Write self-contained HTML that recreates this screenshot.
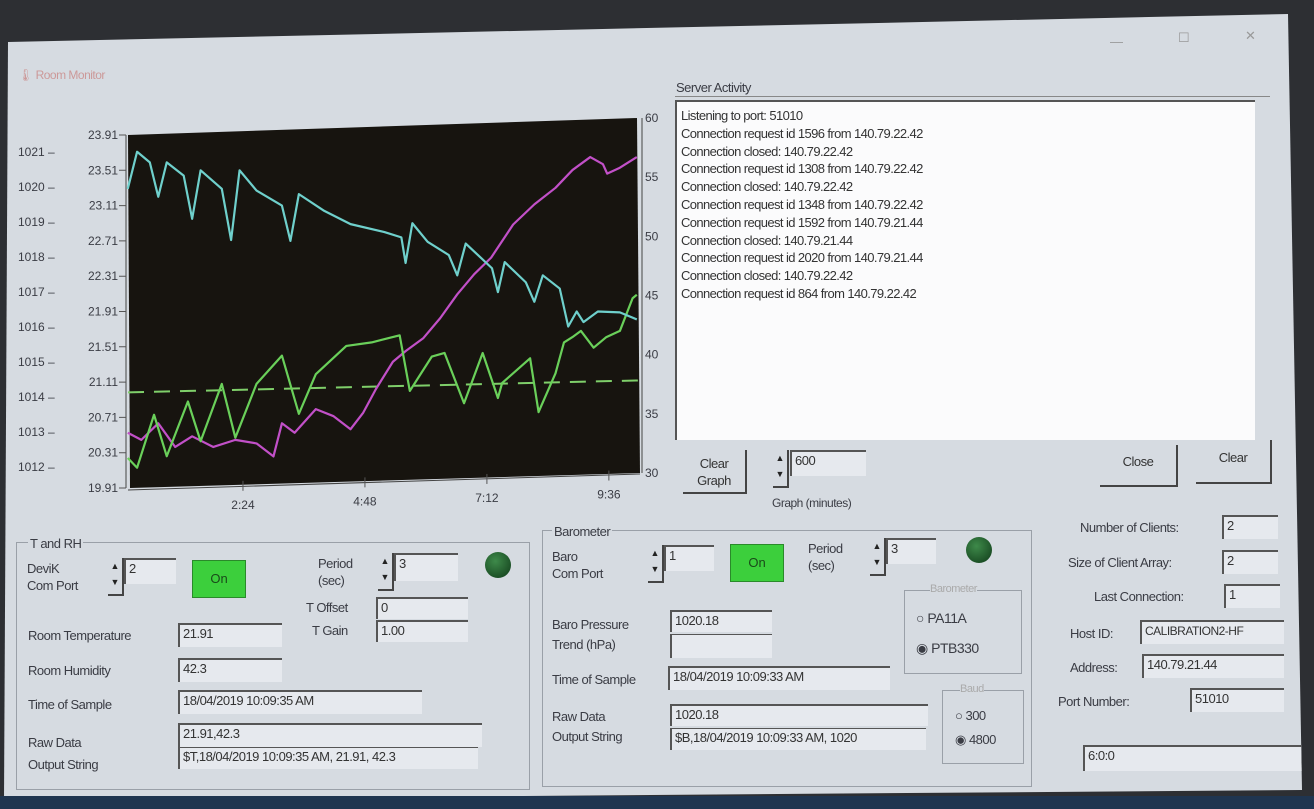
<!DOCTYPE html>
<html><head><meta charset="utf-8"><style>
body{margin:0;width:1314px;height:809px;overflow:hidden;background:#2d2f33;font-family:"Liberation Sans",sans-serif;}
#win{position:absolute;left:0;top:0;width:1314px;height:809px;background:#d6dbe1;clip-path:polygon(8px 42px,1288px 14px,1302px 790px,4px 800px);}
.a{position:absolute;color:#3a3c44;font-size:13px;white-space:nowrap;letter-spacing:-0.5px;}
.box{position:absolute;background:#e6e9ee;border-top:2px solid #555;border-left:2px solid #555;font-size:13px;color:#333;padding-left:3px;box-sizing:border-box;line-height:18px;letter-spacing:-0.5px;white-space:nowrap;overflow:hidden;}
.grp{position:absolute;border:1px solid #9aa0a8;}
.btn{position:absolute;border-right:2px solid #444;border-bottom:2px solid #444;font-size:13px;color:#333;text-align:center;letter-spacing:-0.5px;}
.on{position:absolute;background:#3ccf3c;border:1px solid #2a8a2a;color:#1a4a1a;font-size:13px;text-align:center;line-height:36px;}
.led{position:absolute;width:26px;height:26px;border-radius:50%;background:radial-gradient(circle at 40% 35%,#3e8a4a,#0f3a18);}
.spin{position:absolute;width:14px;height:36px;border-right:2px solid #444;border-bottom:2px solid #444;font-size:9px;line-height:16px;text-align:center;color:#222;}
</style></head><body>
<div id="win">
<div class="a" style="left:18px;top:68px;color:#c99;font-size:12px">🌡 Room Monitor</div>
<div class="a" style="left:1110px;top:34px;color:#999">—</div>
<div class="a" style="left:1178px;top:30px;color:#999">☐</div>
<div class="a" style="left:1245px;top:28px;color:#999">✕</div>

<svg id="chart" width="700" height="520" style="position:absolute;left:0;top:0"></svg>

<div class="a" style="left:676px;top:80px">Server Activity</div>
<div style="position:absolute;left:675px;top:96px;width:595px;height:1px;background:#888"></div>
<div style="position:absolute;left:675px;top:100px;width:580px;height:340px;background:#fbfbfc;border-top:2px solid #555;border-left:2px solid #555;font-size:13px;line-height:17.8px;color:#333;padding:5px 0 0 4px;box-sizing:border-box;letter-spacing:-0.6px">
Listening to port: 51010<br>Connection request id 1596 from 140.79.22.42<br>Connection closed: 140.79.22.42<br>Connection request id 1308 from 140.79.22.42<br>Connection closed: 140.79.22.42<br>Connection request id 1348 from 140.79.22.42<br>Connection request id 1592 from 140.79.21.44<br>Connection closed: 140.79.21.44<br>Connection request id 2020 from 140.79.21.44<br>Connection closed: 140.79.22.42<br>Connection request id 864 from 140.79.22.42</div>

<div class="btn" style="left:683px;top:450px;width:64px;height:44px;line-height:17px;padding-top:5px;box-sizing:border-box">Clear<br>Graph</div>
<div class="spin" style="left:773px;top:450px">▲<br>▼</div>
<div class="box" style="left:790px;top:450px;width:76px;height:26px">600</div>
<div class="a" style="left:772px;top:496px;font-size:12px">Graph (minutes)</div>
<div class="btn" style="left:1100px;top:445px;width:76px;height:40px;line-height:34px">Close</div>
<div class="btn" style="left:1196px;top:440px;width:74px;height:42px;line-height:36px">Clear</div>

<!-- T and RH -->
<div class="grp" style="left:16px;top:542px;width:512px;height:246px"></div>
<div class="a" style="left:28px;top:536px;background:#d6dbe1;padding:0 2px">T and RH</div>
<div class="a" style="left:27px;top:560px;line-height:17px">DeviK<br>Com Port</div>
<div class="spin" style="left:108px;top:558px">▲<br>▼</div>
<div class="box" style="left:124px;top:558px;width:52px;height:26px">2</div>
<div class="on" style="left:192px;top:560px;width:52px;height:36px">On</div>
<div class="a" style="left:318px;top:555px;line-height:17px">Period<br>(sec)</div>
<div class="spin" style="left:378px;top:553px">▲<br>▼</div>
<div class="box" style="left:394px;top:553px;width:64px;height:28px">3</div>
<div class="led" style="left:485px;top:552px"></div>
<div class="a" style="left:306px;top:600px">T Offset</div>
<div class="box" style="left:376px;top:597px;width:92px;height:22px">0</div>
<div class="a" style="left:312px;top:623px">T Gain</div>
<div class="box" style="left:376px;top:620px;width:92px;height:22px">1.00</div>
<div class="a" style="left:28px;top:628px">Room Temperature</div>
<div class="box" style="left:178px;top:623px;width:104px;height:24px">21.91</div>
<div class="a" style="left:28px;top:663px">Room Humidity</div>
<div class="box" style="left:178px;top:658px;width:104px;height:24px">42.3</div>
<div class="a" style="left:28px;top:697px">Time of Sample</div>
<div class="box" style="left:178px;top:690px;width:244px;height:24px">18/04/2019 10:09:35 AM</div>
<div class="a" style="left:28px;top:732px;line-height:22px">Raw Data<br>Output String</div>
<div class="box" style="left:178px;top:723px;width:304px;height:24px">21.91,42.3</div>
<div class="box" style="left:178px;top:747px;width:300px;height:22px;border-top:1px solid #555">$T,18/04/2019 10:09:35 AM, 21.91, 42.3</div>

<!-- Barometer -->
<div class="grp" style="left:542px;top:530px;width:488px;height:255px"></div>
<div class="a" style="left:552px;top:524px;background:#d6dbe1;padding:0 2px">Barometer</div>
<div class="a" style="left:552px;top:548px;line-height:17px">Baro<br>Com Port</div>
<div class="spin" style="left:648px;top:545px">▲<br>▼</div>
<div class="box" style="left:664px;top:545px;width:50px;height:26px">1</div>
<div class="on" style="left:730px;top:544px;width:52px;height:36px">On</div>
<div class="a" style="left:808px;top:540px;line-height:17px">Period<br>(sec)</div>
<div class="spin" style="left:870px;top:538px">▲<br>▼</div>
<div class="box" style="left:886px;top:538px;width:50px;height:26px">3</div>
<div class="led" style="left:966px;top:537px"></div>
<div class="grp" style="left:904px;top:590px;width:116px;height:82px"></div>
<div class="a" style="left:930px;top:583px;color:#aaa;font-size:11px;background:#d6dbe1">Barometer</div>
<div class="a" style="left:916px;top:610px;font-size:14px">○ PA11A</div>
<div class="a" style="left:916px;top:640px;font-size:14px">◉ PTB330</div>
<div class="grp" style="left:942px;top:690px;width:80px;height:72px"></div>
<div class="a" style="left:960px;top:683px;color:#aaa;font-size:11px;background:#d6dbe1">Baud</div>
<div class="a" style="left:955px;top:708px">○ 300</div>
<div class="a" style="left:955px;top:732px">◉ 4800</div>
<div class="a" style="left:552px;top:615px;line-height:20px">Baro Pressure<br>Trend (hPa)</div>
<div class="box" style="left:670px;top:610px;width:102px;height:22px">1020.18</div>
<div class="box" style="left:670px;top:634px;width:102px;height:24px;border-top:1px solid #555"></div>
<div class="a" style="left:552px;top:672px">Time of Sample</div>
<div class="box" style="left:668px;top:666px;width:222px;height:24px">18/04/2019 10:09:33 AM</div>
<div class="a" style="left:552px;top:707px;line-height:20px">Raw Data<br>Output String</div>
<div class="box" style="left:670px;top:704px;width:258px;height:22px">1020.18</div>
<div class="box" style="left:670px;top:728px;width:256px;height:22px;border-top:1px solid #555">$B,18/04/2019 10:09:33 AM, 1020</div>

<!-- server info -->
<div class="a" style="left:1080px;top:520px">Number of Clients:</div>
<div class="box" style="left:1222px;top:515px;width:56px;height:24px">2</div>
<div class="a" style="left:1068px;top:555px">Size of Client Array:</div>
<div class="box" style="left:1222px;top:550px;width:56px;height:24px">2</div>
<div class="a" style="left:1094px;top:589px">Last Connection:</div>
<div class="box" style="left:1224px;top:584px;width:56px;height:24px">1</div>
<div class="a" style="left:1070px;top:626px">Host ID:</div>
<div class="box" style="left:1140px;top:620px;width:144px;height:24px;font-size:12px">CALIBRATION2-HF</div>
<div class="a" style="left:1070px;top:660px">Address:</div>
<div class="box" style="left:1142px;top:654px;width:142px;height:24px">140.79.21.44</div>
<div class="a" style="left:1058px;top:694px">Port Number:</div>
<div class="box" style="left:1190px;top:688px;width:94px;height:24px">51010</div>
<div class="box" style="left:1083px;top:745px;width:220px;height:26px">6:0:0</div>
</div>
<div style="position:absolute;left:0;top:796px;width:1314px;height:13px;background:#1f3550"></div>

<script>
// time in minutes; temperature series on left axis, humidity on right axis
const cyanT=[8,19,34,44,54,74,84,94,119,130,140,160,190,200,210,240,271,311,331,336,344,362,387,397,407,438,445,453,478,488,498,518,528,538,546,563,589,609];
const cyanV=[23.30,23.72,23.60,23.21,23.60,23.45,22.96,23.51,23.30,22.72,23.51,23.28,23.11,22.71,23.24,23.05,22.90,22.81,22.75,22.46,22.91,22.70,22.55,22.32,22.68,22.40,22.13,22.47,22.24,22.02,22.32,22.17,21.74,21.91,21.79,21.91,21.90,21.82];
const magT=[8,24,44,64,84,109,135,160,180,190,205,230,251,271,286,301,321,336,357,377,397,417,437,463,488,513,533,554,569,574,589,609];
const magV=[33.4,32.8,34.2,32.2,33.1,32.2,32.8,32.5,31.4,34.2,33.4,35.4,34.8,33.7,35.1,37.1,39.4,40.3,41.4,43.1,45.1,46.8,48.2,51.0,52.7,54.1,55.6,56.7,56.1,55.3,55.8,56.7];
const grnT=[8,19,39,54,79,94,119,135,160,190,210,230,266,296,329,341,367,382,405,427,445,450,483,493,513,523,533,543,558,573,589,604,609];
const grnV=[20.25,20.14,20.74,20.27,20.89,20.44,21.09,20.48,21.09,21.41,20.75,21.20,21.52,21.56,21.64,21.01,21.40,21.44,20.87,21.44,20.93,21.10,21.38,20.77,21.21,21.56,21.62,21.69,21.50,21.62,21.69,22.06,22.10];
const dashLevel=[21.05];
const tempTicks=["23.91","23.51","23.11","22.71","22.31","21.91","21.51","21.11","20.71","20.31","19.91"];
const presTicks=["1021","1020","1019","1018","1017","1016","1015","1014","1013","1012"];
const humTicks=["60","55","50","45","40","35","30"];
const timeTicks=[144,288,432,576];
const timeLabels=["2:24","4:48","7:12","9:36"];

const svg=document.getElementById('chart');
const NS='http://www.w3.org/2000/svg';
const L=128,R=640,T0=135,B0=488;
const xs=t=>121+t*0.847;
const yT=v=>T0+(23.91-v)/4*(B0-T0);
const yH=v=>118+(60-v)/30*(473-118);
const yP=v=>152+(1021-v)/9*(467-152);
function mk(tag,attrs){const e=document.createElementNS(NS,tag);for(const k in attrs)e.setAttribute(k,attrs[k]);svg.appendChild(e);return e;}
const bg=mk('polygon',{points:`${L},${T0} ${R-3},118 ${R},473 ${L+2},${B0}`,fill:'#17140f'});


mk('line',{x1:L,y1:B0+2,x2:R,y2:474,stroke:'#444'});
mk('line',{x1:L-2,y1:T0,x2:L-2,y2:B0,stroke:'#444'});
mk('line',{x1:R+2,y1:118,x2:R+2,y2:473,stroke:'#444'});
tempTicks.forEach(s=>{const v=parseFloat(s),y=yT(v);
 const t=mk('text',{x:118,y:y+4,'text-anchor':'end','font-size':12,fill:'#3a3c44','font-family':'Liberation Sans'});t.textContent=s;
 
 
 mk('line',{x1:119,y1:y,x2:126,y2:y,stroke:'#555'});});
presTicks.forEach(s=>{const y=yP(parseFloat(s));
 const t=mk('text',{x:18,y:y+4,'font-size':12,fill:'#3a3c44','font-family':'Liberation Sans'});t.textContent=s+' –';
 
 });
humTicks.forEach(s=>{const y=yH(parseFloat(s));
 const t=mk('text',{x:645,y:y+4,'font-size':12,fill:'#3a3c44','font-family':'Liberation Sans'});t.textContent=s;
 
 });
timeTicks.forEach((m,i)=>{const x=xs(m),y=B0-(x-L)*0.028;
 mk('line',{x1:x,y1:y-4,x2:x,y2:y+6,stroke:'#555'});
 const t=mk('text',{x:x,y:y+24,'text-anchor':'middle','font-size':12,fill:'#3a3c44','font-family':'Liberation Sans'});t.textContent=timeLabels[i];
 
 });
function line(ts,vs,fy,col,name){const p=mk('polyline',{points:ts.map((t,i)=>xs(t)+','+fy(vs[i])).join(' '),fill:'none',stroke:col,'stroke-width':2.2,'stroke-linejoin':'round'});
 
 }
const dl=mk('line',{x1:L,y1:yT(dashLevel[0])+5,x2:R,y2:yT(dashLevel[0])-7,stroke:'#7fcf6a','stroke-width':2,'stroke-dasharray':'16,10'});


line(magT,magV,yH,'#c250c8','humidity-line');
line(grnT,grnV,yT,'#6ad05a','room-temp-line');
line(cyanT,cyanV,yT,'#6fd0cc','pressure-line');
</script>
</body></html>
